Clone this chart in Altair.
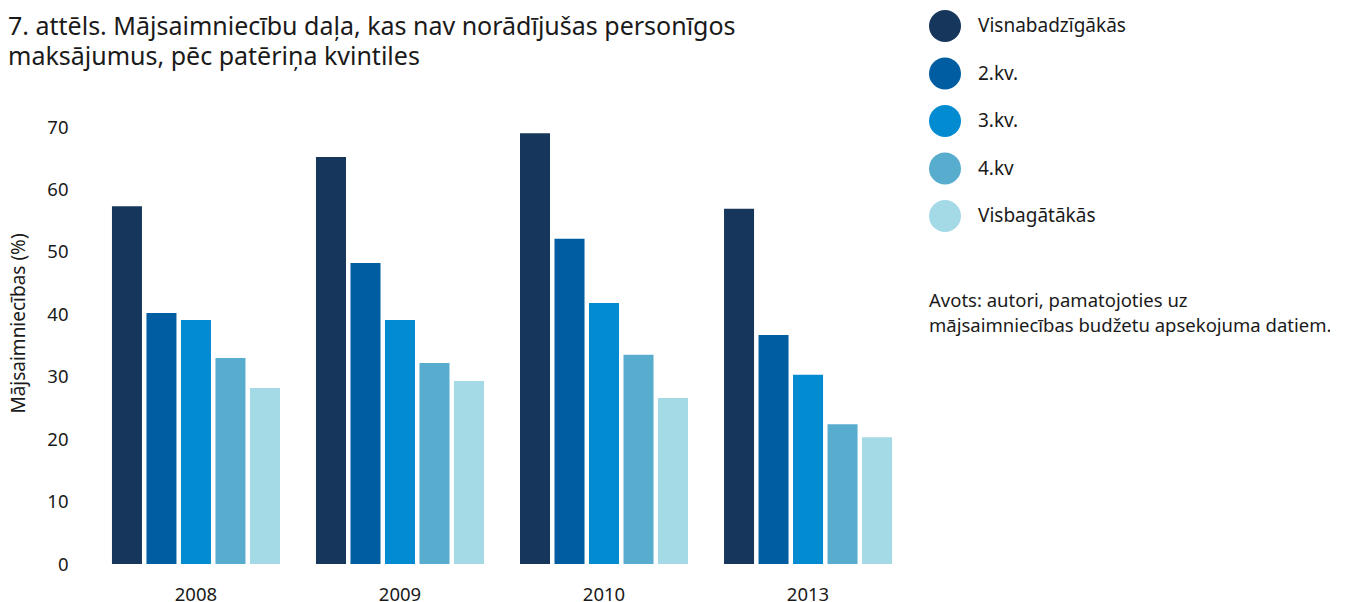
import altair as alt
import pandas as pd

years = ["2008", "2009", "2010", "2013"]
groups = ["Visnabadzīgākās", "2.kv.", "3.kv.", "4.kv", "Visbagātākās"]
colors = ["#17365C", "#015DA1", "#038BD2", "#58ADCF", "#A4D9E6"]

v_q1 = [57.3, 65.2, 69.0, 56.9]
v_q2 = [40.2, 48.2, 52.1, 36.7]
v_q3 = [39.1, 39.1, 41.8, 30.3]
v_q4 = [33.0, 32.2, 33.5, 22.4]
v_q5 = [28.2, 29.3, 26.6, 20.3]

title_lines = ["7. attēls. Mājsaimniecību daļa, kas nav norādījušas personīgos",
               "maksājumus, pēc patēriņa kvintiles"]
source_lines = ["Avots: autori, pamatojoties uz",
                "mājsaimniecības budžetu apsekojuma datiem."]
y_title = "Mājsaimniecības (%)"

series = [v_q1, v_q2, v_q3, v_q4, v_q5]
rows = []
for g, vals in zip(groups, series):
    for yr, v in zip(years, vals):
        rows.append({"year": yr, "group": g, "value": v})
df = pd.DataFrame(rows)

FONT = "Noto Sans"
TXT = "#1a1a1a"

bars = alt.Chart(df).mark_bar().encode(
    x=alt.X("year:N", sort=years,
            scale=alt.Scale(paddingInner=0.1765, paddingOuter=0.088),
            axis=alt.Axis(title=None, labelAngle=0, domain=False, ticks=False,
                          labelPadding=21, labelFontSize=18.5, labelFont=FONT,
                          labelColor=TXT)),
    xOffset=alt.XOffset("group:N", sort=groups, scale=alt.Scale(paddingInner=0.13)),
    y=alt.Y("value:Q", scale=alt.Scale(domain=[0, 70], nice=False),
            axis=alt.Axis(values=[0, 10, 20, 30, 40, 50, 60, 70], title=y_title,
                          grid=False, domain=False, ticks=False, labelPadding=26,
                          labelFontSize=18.5, labelFont=FONT, labelColor=TXT,
                          titleFont=FONT, titleFontSize=19, titleFontWeight="normal",
                          titleColor=TXT, titleX=-76, titleY=196, titleAngle=-90,
                          titleAlign="center", titleBaseline="middle")),
    color=alt.Color("group:N", sort=groups,
                    scale=alt.Scale(domain=groups, range=colors),
                    legend=alt.Legend(title=None, orient="none", legendX=835, legendY=-117,
                                      symbolType="circle", symbolSize=1024,
                                      symbolStrokeWidth=0, symbolOpacity=1,
                                      labelFont=FONT, labelFontSize=19, labelColor=TXT,
                                      labelOffset=17, rowPadding=15.5, padding=0)),
)

src_df = pd.DataFrame({"t": [source_lines]})
source = alt.Chart(src_df).mark_text(
    align="left", baseline="alphabetic", font=FONT, fontSize=18.5, color=TXT,
    lineHeight=25
).encode(x=alt.value(835), y=alt.value(180), text="t")

ttl_df = pd.DataFrame({"t": [title_lines]})
title = alt.Chart(ttl_df).mark_text(
    align="left", baseline="alphabetic", font=FONT, fontSize=25, color=TXT,
    lineHeight=30
).encode(x=alt.value(-86), y=alt.value(-92), text="t")

chart = alt.layer(bars, source, title).properties(
    width=816, height=437,
    autosize=alt.AutoSizeParams(type="none"),
    padding={"left": 86, "top": 119, "right": 420, "bottom": 40},
).configure_view(stroke=None)

chart.save("out.html", embed_options={"renderer": "svg", "actions": False})
